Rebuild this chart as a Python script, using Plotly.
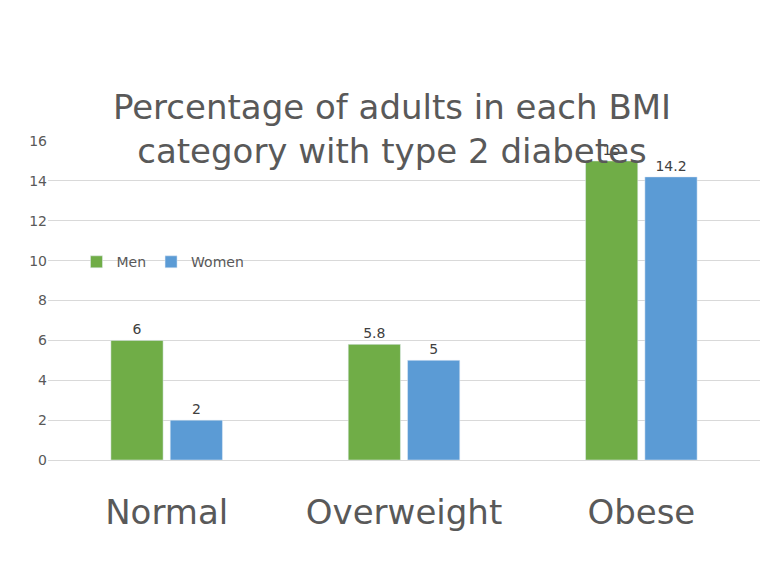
import plotly.graph_objects as go

categories = ["Normal", "Overweight", "Obese"]
men = [6, 5.8, 15]
women = [2, 5, 14.2]

fig = go.Figure()
fig.add_bar(name="Men", x=categories, y=men, marker_color="#70AD47",
            text=[str(v) for v in men], textposition="outside",
            textfont=dict(size=14, color="#404040"), cliponaxis=False)
fig.add_bar(name="Women", x=categories, y=women, marker_color="#5B9BD5",
            text=[str(v) for v in women], textposition="outside",
            textfont=dict(size=14, color="#404040"), cliponaxis=False)

fig.update_layout(
    width=768, height=579, paper_bgcolor="white", plot_bgcolor="white",
    font=dict(family="DejaVu Sans", color="#595959"),
    title=dict(text="Percentage of adults in each BMI<br>category with type 2 diabetes",
               x=0.5, xanchor="center", yref="paper", y=1, yanchor="bottom",
               pad=dict(b=22),
               font=dict(size=34, color="#595959", family="DejaVu Sans")),
    margin=dict(l=40, r=16, t=133, b=127, autoexpand=False),
    barmode="group", bargap=0.5, bargroupgap=0.12,
    legend=dict(orientation="h", x=0.04, y=0.62, xanchor="left", yanchor="middle",
                font=dict(size=14, color="#595959"), bgcolor="rgba(0,0,0,0)",
                itemwidth=30),
    showlegend=True,
)
fig.update_yaxes(range=[0, 16], dtick=2, gridcolor="#D9D9D9", zeroline=False,
                 tickfont=dict(size=14, color="#595959"), showline=False, ticklen=0)
fig.update_xaxes(tickfont=dict(size=34, color="#595959"), showline=True,
                 linecolor="#D9D9D9", ticklen=0, ticks="", ticklabelstandoff=22)
fig.write_html("out.html")
